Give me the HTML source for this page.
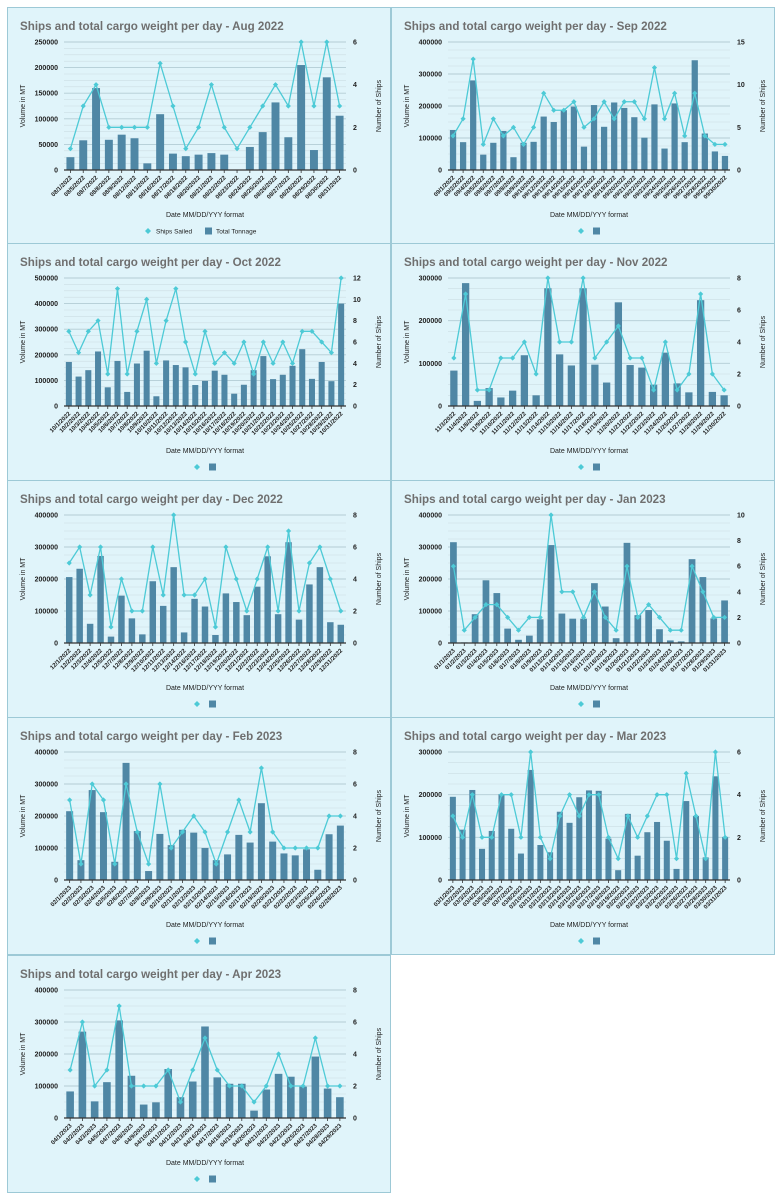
<!DOCTYPE html>
<html><head><meta charset="utf-8">
<style>
html,body{margin:0;padding:0;background:#fff;width:783px;height:1200px;overflow:hidden}
svg{position:absolute;left:0;top:0}
text{font-family:"Liberation Sans",sans-serif}
</style></head>
<body>
<svg id="root" width="783" height="1200"></svg>
<script>
// Aug 2022
const augDates=["08/1/2022","08/5/2022","08/7/2022","08/8/2022","08/9/2022","08/12/2022","08/13/2022","08/16/2022","08/17/2022","08/18/2022","08/20/2022","08/21/2022","08/22/2022","08/23/2022","08/24/2022","08/25/2022","08/26/2022","08/27/2022","08/28/2022","08/29/2022","08/30/2022","08/31/2022"];
const augTons=[25000,58000,160000,59000,69000,62000,13000,109000,32000,27000,30000,33000,30000,0,45000,74000,132000,64000,205000,39000,181000,106000];
const augShips=[1,3,4,2,2,2,2,5,3,1,2,4,2,1,2,3,4,3,6,3,6,3];
// Sep 2022
const sepDates=["09/1/2022","09/2/2022","09/4/2022","09/5/2022","09/6/2022","09/7/2022","09/8/2022","09/9/2022","09/10/2022","09/12/2022","09/13/2022","09/14/2022","09/15/2022","09/16/2022","09/17/2022","09/18/2022","09/19/2022","09/20/2022","09/21/2022","09/22/2022","09/23/2022","09/24/2022","09/25/2022","09/26/2022","09/27/2022","09/28/2022","09/29/2022","09/30/2022"];
const sepTons=[125000,87000,280000,48000,85000,122000,40000,85000,88000,167000,150000,187000,198000,73000,203000,135000,211000,194000,165000,101000,205000,67000,208000,87000,343000,114000,58000,44000];
const sepShips=[4,6,13,3,6,4,5,3,5,9,7,7,8,5,6,8,6,8,8,6,12,6,9,4,9,4,3,3];
// Oct 2022
const octDates=["10/1/2022","10/2/2022","10/3/2022","10/4/2022","10/5/2022","10/6/2022","10/7/2022","10/8/2022","10/9/2022","10/10/2022","10/11/2022","10/12/2022","10/13/2022","10/14/2022","10/15/2022","10/16/2022","10/17/2022","10/18/2022","10/19/2022","10/20/2022","10/21/2022","10/22/2022","10/23/2022","10/24/2022","10/25/2022","10/27/2022","10/28/2022","10/29/2022","10/31/2022"];
const octTons=[172000,115000,140000,213000,73000,176000,55000,166000,216000,38000,178000,160000,151000,82000,98000,138000,122000,48000,83000,140000,195000,105000,122000,157000,222000,106000,172000,97000,400000];
const octShips=[7,5,7,8,3,11,3,7,10,4,8,11,6,3,7,4,5,4,6,3,6,4,6,4,7,7,6,5,12];
// Nov 2022
const novDates=["11/3/2022","11/4/2022","11/8/2022","11/9/2022","11/10/2022","11/11/2022","11/12/2022","11/13/2022","11/14/2022","11/15/2022","11/16/2022","11/17/2022","11/18/2022","11/19/2022","11/20/2022","11/21/2022","11/22/2022","11/23/2022","11/24/2022","11/25/2022","11/27/2022","11/28/2022","11/29/2022","11/30/2022"];
const novTons=[83000,288000,12000,42000,20000,36000,119000,25000,276000,121000,95000,276000,97000,55000,243000,96000,90000,50000,125000,53000,32000,248000,33000,25000];
const novShips=[3,7,1,1,3,3,4,2,8,4,4,8,3,4,5,3,3,1,4,1,2,7,2,1];
// Dec 2022
const decDates=["12/1/2022","12/2/2022","12/3/2022","12/4/2022","12/5/2022","12/7/2022","12/8/2022","12/9/2022","12/10/2022","12/11/2022","12/13/2022","12/14/2022","12/16/2022","12/17/2022","12/18/2022","12/19/2022","12/20/2022","12/21/2022","12/22/2022","12/23/2022","12/24/2022","12/25/2022","12/26/2022","12/27/2022","12/28/2022","12/29/2022","12/31/2022"];
const decTons=[206000,232000,60000,272000,20000,148000,77000,27000,193000,116000,237000,33000,138000,114000,25000,155000,128000,87000,176000,271000,90000,315000,73000,183000,237000,65000,57000];
const decShips=[5,6,3,6,1,4,2,2,6,3,8,3,3,4,1,6,4,2,4,6,2,7,2,5,6,4,2];
// Jan 2023
const janDates=["01/1/2023","01/2/2023","01/3/2023","01/4/2023","01/5/2023","01/6/2023","01/7/2023","01/8/2023","01/9/2023","01/13/2023","01/14/2023","01/15/2023","01/16/2023","01/17/2023","01/18/2023","01/19/2023","01/20/2023","01/21/2023","01/22/2023","01/23/2023","01/24/2023","01/26/2023","01/27/2023","01/28/2023","01/29/2023","01/31/2023"];
const janTons=[315000,2000,90000,196000,156000,45000,10000,23000,74000,306000,92000,76000,76000,187000,114000,15000,313000,87000,103000,43000,8000,5000,262000,206000,77000,133000];
const janShips=[6,1,2,3,3,2,1,2,2,10,4,4,2,4,2,1,6,2,3,2,1,1,6,4,2,2];
// Feb 2023
const febDates=["02/1/2023","02/2/2023","02/3/2023","02/4/2023","02/5/2023","02/6/2023","02/7/2023","02/8/2023","02/9/2023","02/10/2023","02/11/2023","02/12/2023","02/13/2023","02/14/2023","02/15/2023","02/16/2023","02/17/2023","02/19/2023","02/20/2023","02/21/2023","02/22/2023","02/23/2023","02/25/2023","02/26/2023","02/28/2023"];
const febTons=[215000,62000,281000,212000,57000,366000,153000,28000,144000,109000,157000,148000,100000,62000,80000,141000,117000,240000,120000,83000,77000,96000,32000,143000,170000];
const febShips=[5,1,6,5,1,6,3,1,6,2,3,4,3,1,3,5,3,7,3,2,2,2,2,4,4];
// Mar 2023
const marDates=["03/1/2023","03/2/2023","03/3/2023","03/4/2023","03/5/2023","03/6/2023","03/7/2023","03/8/2023","03/10/2023","03/11/2023","03/12/2023","03/13/2023","03/14/2023","03/15/2023","03/16/2023","03/17/2023","03/18/2023","03/19/2023","03/20/2023","03/21/2023","03/22/2023","03/23/2023","03/24/2023","03/25/2023","03/26/2023","03/27/2023","03/28/2023","03/30/2023","03/31/2023"];
const marTons=[195000,118000,211000,73000,115000,201000,120000,62000,258000,82000,65000,160000,134000,194000,210000,209000,97000,23000,155000,57000,112000,136000,92000,26000,185000,150000,53000,243000,101000];
const marShips=[3,2,4,2,2,4,4,2,6,2,1,3,4,3,4,4,2,1,3,2,3,4,4,1,5,3,1,6,2];
// Apr 2023
const aprDates=["04/1/2023","04/2/2023","04/3/2023","04/5/2023","04/7/2023","04/8/2023","04/9/2023","04/10/2023","04/11/2023","04/12/2023","04/13/2023","04/16/2023","04/17/2023","04/18/2023","04/19/2023","04/20/2023","04/21/2023","04/22/2023","04/23/2023","04/25/2023","04/27/2023","04/28/2023","04/29/2023"];
const aprTons=[83000,270000,52000,112000,305000,132000,42000,49000,153000,65000,114000,286000,127000,107000,107000,23000,89000,138000,129000,98000,192000,92000,65000];
const aprShips=[3,6,2,3,7,2,2,2,3,1,3,5,3,2,2,1,2,4,2,2,5,2,2];
// axis tick labels
const leftTicks250=["0","50000","100000","150000","200000","250000"];
const leftTicks300=["0","100000","200000","300000"];
const leftTicks400=["0","100000","200000","300000","400000"];
const leftTicks500=["0","100000","200000","300000","400000","500000"];
const rightTicks6=["0","2","4","6"];
const rightTicks8=["0","2","4","6","8"];
const rightTicks10=["0","2","4","6","8","10"];
const rightTicks12=["0","2","4","6","8","10","12"];
const rightTicks15=["0","5","10","15"];

const NS="http://www.w3.org/2000/svg";
const root=document.getElementById('root');
function mk(tag,attrs,parent){const e=document.createElementNS(NS,tag);for(const k in attrs)e.setAttribute(k,attrs[k]);parent.appendChild(e);return e;}

function chart(px,py,month,key,dates,tons,ships,lt,rt,fullLegend){
  const W=383,H=237;
  const g=mk('g',{transform:`translate(${px},${py})`},root);
  
  
  const bg=mk('rect',{x:0.5,y:0.5,width:W,height:H,fill:'#e0f4fa',stroke:'#9dc9d6','stroke-width':1},g);
  
  
  const t=mk('text',{x:13,y:23,'font-size':'11.6','font-weight':'bold',fill:'#6f6f6f'},g);
  t.textContent='Ships and total cargo weight per day -  '+month;
  
  
  const L=57,R=339,T=35,B=163;
  const lmax=+lt[lt.length-1], rmax=+rt[rt.length-1];
  const yL=v=>B-(v/lmax)*(B-T);
  const yR=v=>B-(v/rmax)*(B-T);
  const n=dates.length, band=(R-L)/n;
  const xC=i=>L+band*(i+0.5);
  const nMaj=lt.length-1;
  for(let i=0;i<nMaj;i++){
    const step=(B-T)/nMaj;
    for(let m=1;m<4;m++){
      const y=B-step*i-step*m/4;
      mk('line',{x1:L,x2:R,y1:y,y2:y,stroke:'#cbdde3','stroke-width':0.6},g);
    }
  }
  lt.forEach((lab,i)=>{
    const y=yL(+lab);
    if(i>0) mk('line',{x1:L,x2:R,y1:y,y2:y,stroke:'#b3ccd4','stroke-width':0.9},g);
    const tx=mk('text',{x:L-6,y:y+2.5,'font-size':'7','font-weight':'bold','text-anchor':'end',fill:'#222'},g);
    tx.textContent=lab;
    
    
  });
  rt.forEach(lab=>{
    const y=yR(+lab);
    const tx=mk('text',{x:R+7,y:y+2.5,'font-size':'7','font-weight':'bold',fill:'#222'},g);
    tx.textContent=lab;
    
    
  });
  tons.forEach((v,i)=>{
    const bw=band*0.62;
    const r=mk('rect',{x:xC(i)-bw/2,y:yL(v),width:bw,height:B-yL(v),fill:'#4f87a5'},g);
    
    
  });
  mk('line',{x1:L,x2:R,y1:B,y2:B,stroke:'#333','stroke-width':1.2},g);
  dates.forEach((d,i)=>{
    mk('line',{x1:xC(i),x2:xC(i),y1:B,y2:B+3,stroke:'#333','stroke-width':0.8},g);
    const x=xC(i)+2, y=B+8;
    const tx=mk('text',{x:x,y:y,'font-size':'6','font-weight':'bold','text-anchor':'end',fill:'#222',transform:`rotate(-45 ${x} ${y})`},g);
    tx.textContent=d;
    
    
  });
  const pts=ships.map((v,i)=>xC(i)+','+yR(v)).join(' ');
  const pl=mk('polyline',{points:pts,fill:'none',stroke:'#4dcad6','stroke-width':1.3},g);
  
  
  ships.forEach((v,i)=>{
    const x=xC(i),y=yR(v);
    const p=mk('polygon',{points:`${x},${y-2.6} ${x+2.6},${y} ${x},${y+2.6} ${x-2.6},${y}`,fill:'#4dcad6'},g);
    
    
  });
  const xt=mk('text',{x:(L+R)/2,y:210,'font-size':'7',fill:'#222','text-anchor':'middle'},g);
  xt.textContent='Date MM/DD/YYY format';
  
  
  const yt=mk('text',{x:0,y:0,'font-size':'7',fill:'#222','text-anchor':'middle',transform:`translate(18 ${(T+B)/2}) rotate(-90)`},g);
  yt.textContent='Volume in MT';
  
  
  const yt2=mk('text',{x:0,y:0,'font-size':'7',fill:'#222','text-anchor':'middle',transform:`translate(374 ${(T+B)/2}) rotate(-90)`},g);
  yt2.textContent='Number of Ships';
  
  
  const ly=224;
  let dx, sx;
  if(fullLegend){dx=141; sx=201;} else {dx=(L+R)/2-8; sx=(L+R)/2+7;}
  const ld=mk('polygon',{points:`${dx},${ly-3} ${dx+3},${ly} ${dx},${ly+3} ${dx-3},${ly}`,fill:'#4dcad6'},g);
  
  
  const ls=mk('rect',{x:sx-3,y:ly-3.5,width:7,height:7,fill:'#4f87a5'},g);
  
  
  if(fullLegend){
    const a=mk('text',{x:dx+8,y:ly+2.5,'font-size':'6.5',fill:'#222'},g);a.textContent='Ships Sailed';
    
    
    const b=mk('text',{x:sx+8,y:ly+2.5,'font-size':'6.5',fill:'#222'},g);b.textContent='Total Tonnage';
    
    
  }
}
const c1=7,c2=391;
chart(c1,7,'Aug 2022','aug',augDates,augTons,augShips,leftTicks250,rightTicks6,true);
chart(c2,7,'Sep 2022','sep',sepDates,sepTons,sepShips,leftTicks400,rightTicks15,false);
chart(c1,243,'Oct 2022','oct',octDates,octTons,octShips,leftTicks500,rightTicks12,false);
chart(c2,243,'Nov 2022','nov',novDates,novTons,novShips,leftTicks300,rightTicks8,false);
chart(c1,480,'Dec 2022','dec',decDates,decTons,decShips,leftTicks400,rightTicks8,false);
chart(c2,480,'Jan 2023','jan',janDates,janTons,janShips,leftTicks400,rightTicks10,false);
chart(c1,717,'Feb 2023','feb',febDates,febTons,febShips,leftTicks400,rightTicks8,false);
chart(c2,717,'Mar 2023','mar',marDates,marTons,marShips,leftTicks300,rightTicks6,false);
chart(c1,955,'Apr 2023','apr',aprDates,aprTons,aprShips,leftTicks400,rightTicks8,false);
</script>
</body></html>
